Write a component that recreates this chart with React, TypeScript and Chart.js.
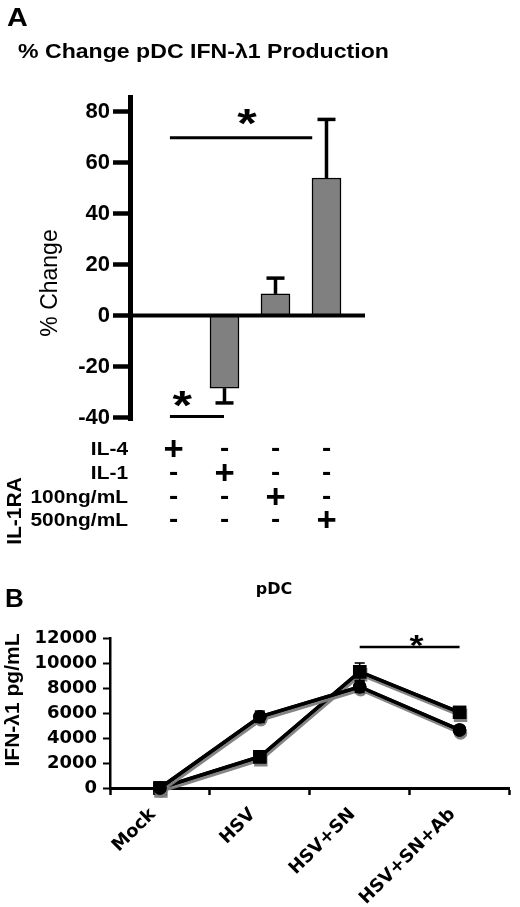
import { useEffect, useRef } from "react";
import { Chart, registerables } from "chart.js";

Chart.register(...registerables);

// ---------- Panel A data ----------
const treatmentsA = ["IL-4", "IL-1", "IL-1RA 100ng/mL", "IL-1RA 500ng/mL"];
const pctChange = [0, -28.5, 8.5, 54];
const pctChangeErr = [0, 5.8, 6.2, 23];
const yTicksA = [-40, -20, 0, 20, 40, 60, 80];
const tableRowLabels = ["IL-4", "IL-1", "100ng/mL", "500ng/mL"];
const rowIL4 = ["+", "-", "-", "-"];
const rowIL1 = ["-", "+", "-", "-"];
const row100 = ["-", "-", "+", "-"];
const row500 = ["-", "-", "-", "+"];
const sigTopA = [-0.07, 2.72, 69.8, 1.44, 79];
const sigBottomA = [-0.07, 0.99, -39.6, 0.17, -31.4];

// ---------- Panel B data ----------
const categoriesB = ["Mock", "HSV", "HSV+SN", "HSV+SN+Ab"];
const seriesCircle = [0, 5700, 8100, 4650];
const seriesCircleErr = [0, 450, 450, 300];
const seriesSquare = [0, 2500, 9300, 6050];
const seriesSquareErr = [0, 200, 700, 250];
const yTicksB = [0, 2000, 4000, 6000, 8000, 10000, 12000];
const sigB = [2, 3, 11280, 2.57, 12000];

const SANS = "'Liberation Sans', Arial, sans-serif";
const DEJA = "'DejaVu Sans', Verdana, sans-serif";

function txt(
  ctx: CanvasRenderingContext2D,
  s: string,
  x: number,
  y: number,
  font: string,
  align: CanvasTextAlign,
  baseline: CanvasTextBaseline,
  sx = 1,
  rot = 0
) {
  ctx.save();
  ctx.translate(x, y);
  if (rot) ctx.rotate(rot);
  ctx.scale(sx, 1);
  ctx.font = font;
  ctx.textAlign = align;
  ctx.textBaseline = baseline;
  ctx.fillStyle = "#000";
  ctx.fillText(s, 0, 0);
  ctx.restore();
}

function line(ctx: CanvasRenderingContext2D, x1: number, y1: number, x2: number, y2: number, w: number) {
  ctx.save();
  ctx.strokeStyle = "#000";
  ctx.lineWidth = w;
  ctx.lineCap = "butt";
  ctx.beginPath();
  ctx.moveTo(x1, y1);
  ctx.lineTo(x2, y2);
  ctx.stroke();
  ctx.restore();
}

export default function App() {
  const refA = useRef<HTMLCanvasElement>(null);
  const refB = useRef<HTMLCanvasElement>(null);

  useEffect(() => {
    const decorA = {
      id: "decorA",
      afterDatasetsDraw(chart: any) {
        const ctx = chart.ctx as CanvasRenderingContext2D;
        const xs = chart.scales.x;
        const ys = chart.scales.y;
        const ca = chart.chartArea;
        // zero line
        const y0 = ys.getPixelForValue(0);
        line(ctx, ca.left, y0, ca.right, y0, 4);
        // error bars
        const meta = chart.getDatasetMeta(0);
        pctChange.forEach((v, i) => {
          const e = pctChangeErr[i];
          if (!e) return;
          const bx = meta.data[i].x;
          const sgn = v < 0 ? -1 : 1;
          const yv = ys.getPixelForValue(v);
          const ye = ys.getPixelForValue(v + sgn * e);
          line(ctx, bx, yv, bx, ye, 3.5);
          line(ctx, bx - 9, ye, bx + 9, ye, 3.5);
        });
        // significance
        [sigTopA, sigBottomA].forEach((s) => {
          const yl = ys.getPixelForValue(s[2]);
          line(ctx, xs.getPixelForValue(s[0]), yl, xs.getPixelForValue(s[1]), yl, 3);
          txt(ctx, "*", xs.getPixelForValue(s[3]), ys.getPixelForValue(s[4]) + 23, `bold 40px ${SANS}`, "center", "alphabetic", 1.25);
        });
        // table
        const rows = [rowIL4, rowIL1, row100, row500];
        const rowY = [450, 474, 498, 521];
        rows.forEach((r, ri) => {
          txt(ctx, tableRowLabels[ri], 128, rowY[ri], `bold 19px ${SANS}`, "right", "middle", 1.1);
          r.forEach((sym, ci) => {
            const cx = xs.getPixelForValue(ci);
            if (sym === "+") txt(ctx, "+", cx, rowY[ri] + 1, `bold 33px ${SANS}`, "center", "middle", 1.05);
            else txt(ctx, "-", cx, rowY[ri] - 1, `bold 25px ${SANS}`, "center", "middle", 1.1);
          });
        });
        txt(ctx, "IL-1RA", 15, 511, `bold 21px ${SANS}`, "center", "middle", 1, -Math.PI / 2);
        // titles
        txt(ctx, "A", 7, 26, `bold 25px ${SANS}`, "left", "alphabetic", 1.15);
        txt(ctx, "% Change pDC IFN-\u03bb1 Production", 18, 58, `bold 21px ${SANS}`, "left", "alphabetic", 1.1);
        txt(ctx, "% Change", 51, 283, `23px ${SANS}`, "center", "middle", 1, -Math.PI / 2);
      },
    };

    const chartA = new Chart(refA.current as HTMLCanvasElement, {
      type: "bar",
      data: {
        labels: treatmentsA,
        datasets: [
          {
            data: pctChange.map((v, i) => ({ x: i, y: v })),
            backgroundColor: "#808080",
            borderColor: "#000",
            borderWidth: 1.5,
            barThickness: 29,
          },
        ],
      },
      options: {
        animation: false,
        responsive: false,
        devicePixelRatio: 1,
        layout: { padding: { left: 0, top: 97, right: 155, bottom: 140 } },
        plugins: { legend: { display: false }, tooltip: { enabled: false }, title: { display: false } },
        scales: {
          x: { type: "linear", offset: false, min: -0.853, max: 3.755, display: false },
          y: {
            min: -41,
            max: 85.8,
            afterBuildTicks: (s: any) => {
              s.ticks = yTicksA.map((v) => ({ value: v }));
            },
            afterFit: (s: any) => {
              s.width = 130;
            },
            ticks: { color: "#000", font: { family: SANS, weight: "bold", size: 22 }, padding: 3 },
            grid: { drawOnChartArea: false, tickLength: 17, tickWidth: 4.5, tickColor: "#000" },
            border: { color: "#000", width: 5 },
          },
        },
      },
      plugins: [decorA],
    } as any);

    const shadow = {
      id: "shadow",
      beforeDatasetDraw(chart: any, args: any) {
        const ctx = chart.ctx as CanvasRenderingContext2D;
        const meta = args.meta;
        ctx.save();
        ctx.shadowColor = "rgba(125,125,125,0.95)";
        ctx.shadowOffsetX = 1;
        ctx.shadowOffsetY = 3;
        ctx.shadowBlur = 0;
        meta.dataset.draw(ctx, chart.chartArea);
        meta.data.forEach((p: any) => p.draw(ctx, chart.chartArea));
        ctx.restore();
      },
    };

    const decorB = {
      id: "decorB",
      afterDatasetsDraw(chart: any) {
        const ctx = chart.ctx as CanvasRenderingContext2D;
        const xs = chart.scales.x;
        const ys = chart.scales.y;
        const errs = [seriesCircleErr, seriesSquareErr];
        const vals = [seriesCircle, seriesSquare];
        vals.forEach((vs, di) => {
          vs.forEach((v, i) => {
            const e = errs[di][i];
            if (!e) return;
            const px = xs.getPixelForValue(i);
            const yt = ys.getPixelForValue(v + e);
            const yb = ys.getPixelForValue(v - e);
            line(ctx, px, yt, px, yb, 1.6);
            line(ctx, px - 5, yt, px + 5, yt, 1.6);
            line(ctx, px - 5, yb, px + 5, yb, 1.6);
          });
        });
        const yl = ys.getPixelForValue(sigB[2]);
        line(ctx, xs.getPixelForValue(sigB[0]), yl, xs.getPixelForValue(sigB[1]), yl, 2.5);
        txt(ctx, "*", xs.getPixelForValue(sigB[3]), ys.getPixelForValue(sigB[4]) + 17, `bold 30px ${SANS}`, "center", "alphabetic", 1.2);
        txt(ctx, "B", 5, 47, `bold 26px ${SANS}`, "left", "alphabetic");
        txt(ctx, "pDC", 274, 30, `bold 16px ${DEJA}`, "center", "middle");
        txt(ctx, "IFN-\u03bb1 pg/mL", 13, 140, `bold 21px ${SANS}`, "center", "middle", 1, -Math.PI / 2);
      },
    };

    const chartB = new Chart(refB.current as HTMLCanvasElement, {
      type: "line",
      data: {
        labels: categoriesB,
        datasets: [
          {
            data: seriesCircle,
            borderColor: "#000",
            borderWidth: 3.5,
            pointStyle: "circle",
            pointRadius: 5,
            pointBackgroundColor: "#000",
            pointBorderColor: "#000",
            tension: 0,
            clip: false,
          },
          {
            data: seriesSquare,
            borderColor: "#000",
            borderWidth: 3.5,
            pointStyle: "rect",
            pointRadius: 7,
            pointBackgroundColor: "#000",
            pointBorderColor: "#000",
            tension: 0,
            clip: false,
          },
        ],
      },
      options: {
        animation: false,
        responsive: false,
        devicePixelRatio: 1,
        layout: { padding: { left: 0, top: 78, right: 2, bottom: 0 } },
        plugins: { legend: { display: false }, tooltip: { enabled: false }, title: { display: false } },
        scales: {
          x: {
            offset: true,
            afterFit: (s: any) => {
              s.height = 119;
            },
            grid: { offset: true, drawOnChartArea: false, tickLength: 7, tickWidth: 2.5, tickColor: "#000" },
            border: { color: "#000", width: 3 },
            ticks: {
              color: "#000",
              font: { family: DEJA, weight: "bold", size: 18 },
              maxRotation: 45,
              minRotation: 45,
              padding: 9,
              labelOffset: -7,
            },
          },
          y: {
            min: 0,
            max: 12000,
            afterBuildTicks: (s: any) => {
              s.ticks = yTicksB.map((v) => ({ value: v }));
            },
            afterFit: (s: any) => {
              s.width = 110;
            },
            ticks: {
              color: "#000",
              font: { family: DEJA, weight: "bold", size: 18 },
              padding: 6,
              callback: (v: any) => String(v),
            },
            grid: { drawOnChartArea: false, tickLength: 7, tickWidth: 2, tickColor: "#000" },
            border: { color: "#000", width: 2.5 },
          },
        },
      },
      plugins: [shadow, decorB],
    } as any);

    return () => {
      chartA.destroy();
      chartB.destroy();
    };
  }, []);

  return (
    <div style={{ position: "absolute", left: 0, top: 0, width: 520, height: 907, background: "#fff" }}>
      <canvas ref={refA} width={520} height={560} style={{ position: "absolute", left: 0, top: 0, display: "block" }} />
      <canvas ref={refB} width={520} height={347} style={{ position: "absolute", left: 0, top: 560, display: "block" }} />
    </div>
  );
}
